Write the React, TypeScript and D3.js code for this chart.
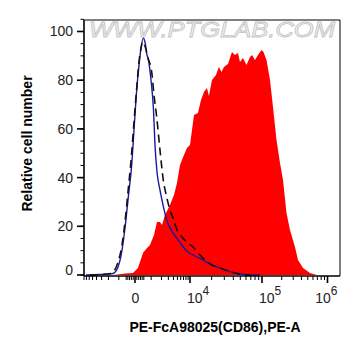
import React from "react";
import * as d3 from "d3";

// ---- data (x: fluorescence PE-A, y: % of max) ----
const redX = [-1607, -1064, -572, -109, 164, 450, 702, 912, 1231, 1508, 1825, 2063, 2467, 3292, 4127, 4882, 5762, 7185, 8476, 10000, 10660, 11370, 12920, 14220, 15650, 17220, 18360, 20210, 22970, 25270, 27380, 29670, 33720, 35940, 38310, 42170, 46420, 49480, 54460, 60910, 68130, 72620, 79930, 87990, 98420, 105400, 117100, 132500, 147200, 166500, 188300, 209200, 236600, 267600, 319000, 354500, 422700, 540500, 691400];
const redY = [0, 0.2, 0.6, 0.8, 2.9, 9.0, 11.1, 12.3, 16.4, 21.8, 21.8, 20.5, 24.6, 28.7, 32.9, 37.8, 45.2, 49.3, 52.2, 53.4, 59.5, 65.7, 66.5, 71.9, 75.2, 76.8, 73.5, 80.1, 82.1, 85.4, 83.4, 85.4, 86.7, 89.1, 91.6, 90.3, 91.2, 87.5, 89.1, 86.2, 89.5, 90.3, 88.3, 90.3, 92.4, 91.6, 88.3, 80.1, 69.0, 55.4, 46.0, 39.0, 25.5, 18.5, 11.5, 6.2, 2.9, 0.8, 0];

const blueX = [-7185, -3292, -2063, -1508, -1064, -790, -572, -373, -181, -55, 93, 220, 333, 468, 572, 702, 769, 987, 1188, 1319, 1508, 1825, 2230, 2725, 3627, 4801, 6331, 8350, 11730, 15160, 20860, 26100, 35940, 49480, 68130, 93800];
const blueY = [0, 0.2, 0.4, 0.6, 3.3, 9.4, 19.3, 32.0, 45.2, 59.5, 76.0, 86.2, 93.2, 97.3, 95.7, 90.3, 89.1, 80.1, 67.8, 53.4, 42.3, 34.9, 28.3, 22.6, 18.1, 15.2, 12.3, 9.9, 7.8, 6.2, 3.9, 2.9, 1.4, 0.4, 0, 0];

const dashX = [-5762, -2063, -1508, -1064, -769, -572, -391, -192, -55, 93, 220, 333, 450, 572, 769, 1041, 1231, 1478, 1825, 2230, 2725, 3292, 3902, 4882, 6436, 8950, 11010, 13770, 16160, 20210, 26100, 35940, 49480, 68130];
const dashY = [0, 0.4, 1.2, 5.3, 12.3, 21.8, 34.1, 49.3, 62.8, 76.8, 87.5, 93.2, 95.7, 94.0, 89.1, 83.4, 73.9, 64.9, 51.3, 39.0, 32.0, 26.7, 23.4, 18.5, 15.6, 13.1, 11.5, 8.2, 6.2, 4.1, 2.9, 1.4, 0.4, 0];

const yTicks = [0, 20, 40, 60, 80, 100];
const xMajor = [0, 1e4, 1e5, 1e6];
const xMajorExp = ["", "4", "5", "6"];
const xTitle = "PE-FcA98025(CD86),PE-A";
const yTitle = "Relative cell number";
const watermark = "WWW.PTGLAB.COM";

const W = 361, H = 356;
const L = 84, R = 340, TOP = 20, BOT = 276;

const T = (v: number) => Math.asinh(v / 1000);
const xT = d3.scaleLinear()
  .domain([T(-8000), 0, T(1e4), T(1e5), T(1e6)])
  .range([L, 135, 190, 262, 327.5]);
const xs = (v: number) => xT(T(v));
const ys = d3.scaleLinear().domain([0, 100]).range([275, 31.5]);

function minorX(): number[] {
  const out: number[] = [];
  for (let k = 1; k <= 8; k++) out.push(-1000 * k);
  for (let k = 1; k <= 5; k++) { out.push(-100 * k); out.push(100 * k); }
  for (let k = 1; k <= 9; k++) out.push(1000 * k);
  for (let k = 2; k <= 9; k++) out.push(1e4 * k);
  for (let k = 2; k <= 9; k++) out.push(1e5 * k);
  return out.filter(v => xs(v) >= L && xs(v) <= R);
}

export default function App() {
  const red = redX.map((x, i) => [x, redY[i]] as [number, number]);
  const blue = blueX.map((x, i) => [x, blueY[i]] as [number, number]);
  const dash = dashX.map((x, i) => [x, dashY[i]] as [number, number]);

  const area = d3.area<[number, number]>()
    .x(d => xs(d[0])).y0(ys(0)).y1(d => ys(d[1]))
    .curve(d3.curveLinear);
  const line = d3.line<[number, number]>()
    .x(d => xs(d[0])).y(d => ys(d[1]))
    .curve(d3.curveMonotoneX);

  const yMinor = d3.range(0, 106, 5);
  const font = "Liberation Sans, Arial, sans-serif";

  return (
    <svg width={W} height={H} style={{ position: "absolute", left: 0, top: 0, background: "#fff" }} fontFamily={font}>
      <defs>
        <clipPath id="plot"><rect x={L} y={TOP} width={R - L} height={BOT - TOP} /></clipPath>
      </defs>
      <text x={89} y={37} fontSize={22} fontStyle="italic" fill="#f2f2f2" stroke="#c4c4c4" strokeWidth={0.8}
        textLength={246} lengthAdjust="spacingAndGlyphs">{watermark}</text>
      <g clipPath="url(#plot)">
        <path d={area(red) || ""} fill="#ff0000" />
        <path d={line(blue) || ""} fill="none" stroke="#1a1a9e" strokeWidth={1.4} />
        <path d={line(dash) || ""} fill="none" stroke="#111" strokeWidth={1.6} strokeDasharray="8,5" />
      </g>
      {/* frame */}
      <line x1={L} x2={R} y1={TOP} y2={TOP} stroke="#000" strokeWidth={1} />
      <line x1={R} x2={R} y1={TOP} y2={BOT} stroke="#000" strokeWidth={1} />
      <line x1={L} x2={L} y1={TOP} y2={BOT} stroke="#000" strokeWidth={1.6} />
      <line x1={L} x2={R} y1={BOT} y2={BOT} stroke="#000" strokeWidth={1.6} />
      {/* y ticks */}
      {yMinor.map(v => (
        <line key={"ym" + v} x1={L - 3.5} x2={L} y1={ys(v)} y2={ys(v)} stroke="#000" strokeWidth={1} />
      ))}
      {yTicks.map(v => (
        <g key={"y" + v}>
          <line x1={L - 7} x2={L} y1={ys(v)} y2={ys(v)} stroke="#000" strokeWidth={1.6} />
          <text x={73} y={ys(v) - (v === 0 ? 5 : 0)} dy="0.35em" textAnchor="end" fontSize={14} fill="#222">{v}</text>
        </g>
      ))}
      {/* x ticks */}
      {minorX().map(v => (
        <line key={"xm" + v} x1={xs(v)} x2={xs(v)} y1={BOT} y2={BOT + 4} stroke="#000" strokeWidth={1} />
      ))}
      {xMajor.map((v, i) => {
        const px = xs(v);
        const exp = xMajorExp[i];
        let label;
        if (!exp) {
          label = <text x={px + 0.5} y={303} textAnchor="middle" fontSize={14} fill="#222">0</text>;
        } else {
          const start = px - 3;
          const fits = start + 24 <= R;
          label = (
            <text x={fits ? start : px + 10} y={303} textAnchor={fits ? "start" : "end"} fontSize={14} fill="#222">
              10<tspan fontSize={12} dy={-8}>{exp}</tspan>
            </text>
          );
        }
        return (
          <g key={"x" + v}>
            <line x1={px} x2={px} y1={BOT} y2={BOT + 7} stroke="#000" strokeWidth={1.6} />
            {label}
          </g>
        );
      })}
      <text x={215} y={332} textAnchor="middle" fontSize={14} fontWeight="bold" fill="#000">{xTitle}</text>
      <text transform={`translate(32,${143.5}) rotate(-90)`} textAnchor="middle" fontSize={14} fontWeight="bold" fill="#000">{yTitle}</text>
    </svg>
  );
}
